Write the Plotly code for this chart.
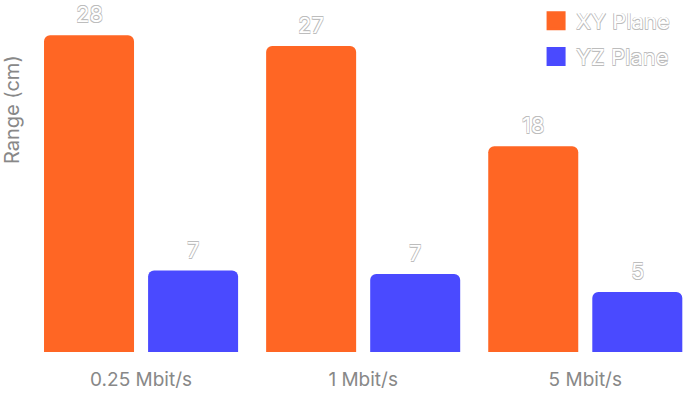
import plotly.graph_objects as go

categories = ["0.25 Mbit/s", "1 Mbit/s", "5 Mbit/s"]
xy_values = [28.0, 27.05, 18.2]
yz_values = [7.2, 6.9, 5.3]
series_names = ["XY Plane", "YZ Plane"]
colors = ["#FF6624", "#4A4AFF"]

outline = "#bdbdbd"
d = "0.6px"
shadow = (f"-{d} -{d} 0 {outline}, {d} -{d} 0 {outline}, -{d} {d} 0 {outline}, "
          f"{d} {d} 0 {outline}")
outline_font = dict(family="Inter", size=22, color="white", shadow=shadow)

fig = go.Figure()
for name, vals, col in zip(series_names, [xy_values, yz_values], colors):
    fig.add_trace(go.Bar(x=categories, y=vals, name=name, marker=dict(color=col, line=dict(width=0)),
                         showlegend=False))
for name, col in zip(series_names, colors):
    fig.add_trace(go.Scatter(x=[None], y=[None], mode="markers", name=name, legendgroup=name,
                             marker=dict(symbol="square", size=21, color=col,
                                         line=dict(width=3, color=col))))

annotations = []
for vals, shift in zip([xy_values, yz_values], [-52, 52]):
    for c, v in zip(categories, vals):
        annotations.append(dict(x=c, y=v, text=f"{v:.0f}", showarrow=False, xshift=shift,
                                yanchor="bottom", yshift=6, font=outline_font))
annotations.append(dict(x=0, y=(352 - 110) / 352, xref="paper", yref="paper", xshift=-18,
                        xanchor="center", yanchor="middle",
                        text="Range (cm)", textangle=-90, showarrow=False,
                        font=dict(family="Inter", size=20, color="#888888")))

fig.update_layout(
    width=683, height=393,
    margin=dict(l=30, r=0, t=0, b=41),
    paper_bgcolor="white", plot_bgcolor="white",
    barmode="group", bargap=0.063, bargroupgap=0.135, barcornerradius=6,
    xaxis=dict(range=[-0.5, 2.44], showgrid=False, showline=False, zeroline=False, ticks="",
               tickfont=dict(family="Inter", size=19, color="#888888"), ticklabelstandoff=14,
               automargin=False),
    yaxis=dict(range=[0, 31.12], showgrid=False, showline=False, zeroline=False,
               showticklabels=False, ticks="", automargin=False),
    legend=dict(x=0.775, y=1.0, xanchor="left", yanchor="top", font=outline_font,
                tracegroupgap=4, bgcolor="rgba(0,0,0,0)", itemsizing="trace"),
    annotations=annotations,
)

fig.write_html("out.html")
